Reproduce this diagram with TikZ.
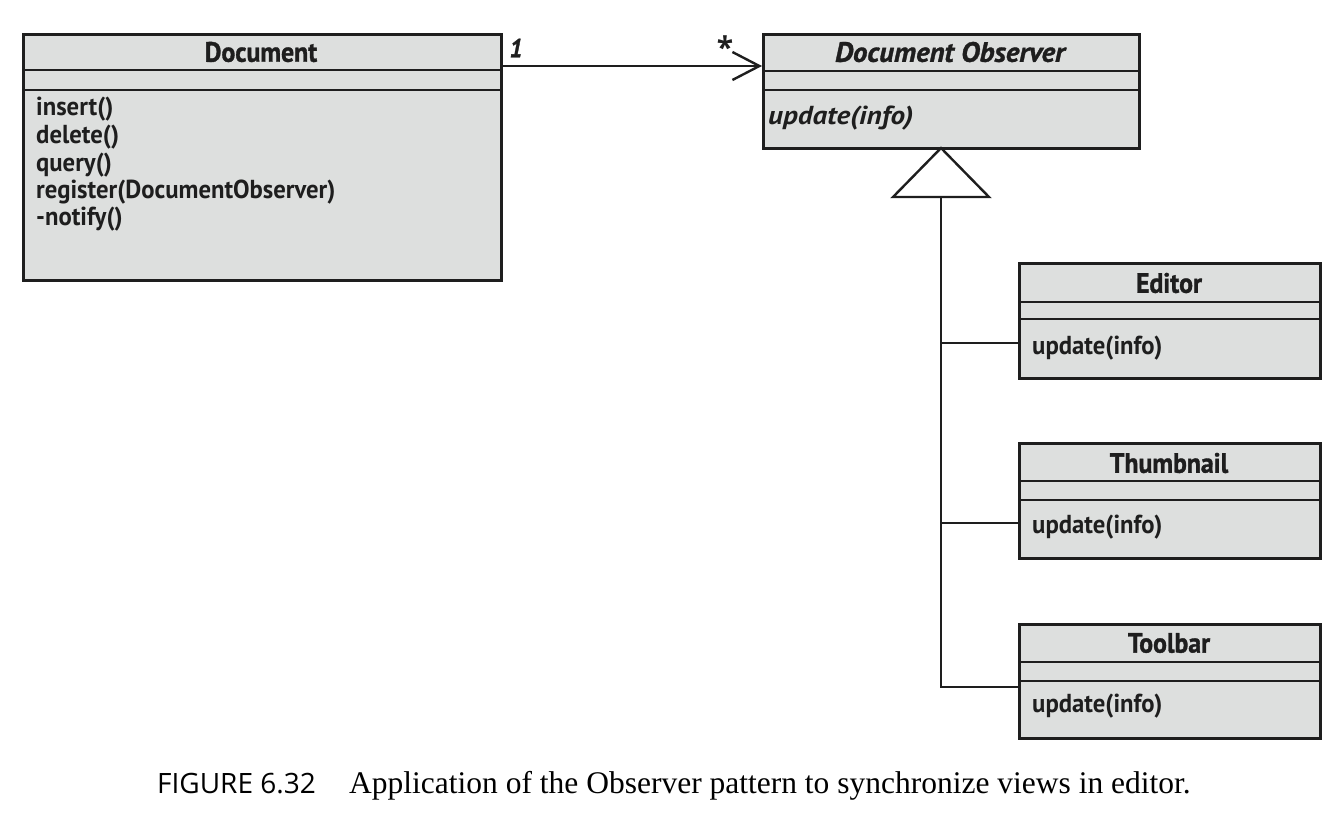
\documentclass[tikz,border=0pt]{standalone}
\usepackage{fontspec}
\usetikzlibrary{arrows.meta}
\newfontfamily\umlfont[FakeStretch=0.95]{PT Sans}
\newfontfamily\umlfontwide[FakeStretch=1.12]{PT Sans}
\newfontfamily\umltitle[FakeStretch=0.92,FakeBold=1.2]{PT Sans}
\newfontfamily\umltitlewide[FakeStretch=1.03,FakeBold=1.2]{PT Sans}
\newfontfamily\capsans{Open Sans}
\newfontfamily\capserif{Liberation Serif}
\definecolor{boxfill}{HTML}{DDDFDE}
\definecolor{linec}{HTML}{1E1E1E}
\tikzset{
  cls/.style={draw=linec, fill=boxfill, line width=2.8pt, rectangle, anchor=north west, inner sep=0pt},
  divider/.style={draw=linec, line width=2.8pt},
  ctitle/.style={font=\umltitle\bfseries\fontsize{28}{28}\selectfont, text=linec, anchor=center, inner sep=0pt},
  ctitleit/.style={font=\umltitlewide\bfseries\itshape\fontsize{28}{28}\selectfont, text=linec, anchor=center, inner sep=0pt},
  op/.style={font=\umlfont\bfseries\fontsize{26}{26}\selectfont, text=linec, anchor=west, inner sep=0pt},
  opit/.style={font=\umlfontwide\bfseries\itshape\fontsize{26}{26}\selectfont, text=linec, anchor=west, inner sep=0pt},
  mult/.style={font=\umltitle\bfseries\itshape\fontsize{26}{26}\selectfont, text=linec, inner sep=0pt},
  conn/.style={draw=linec, line width=2.4pt},
  assoc/.style={conn, -{Straight Barb[length=27pt,width=28pt,line width=2.4pt]}},
}
\begin{document}
\begin{tikzpicture}[x=1pt,y=-1pt]
\useasboundingbox (0,0) rectangle (1343,820);
% Document
\node[cls, minimum width=478pt, minimum height=246pt] (doc) at (22,33) {};
\draw[divider] (22,70) -- (500,70);
\draw[divider] (22,90) -- (500,90);
\node[ctitle] (doctitle) at (261,52) {Document};
\node[op] (op1) at (36,109) {insert()};
\node[op] (op2) at (36,137) {delete()};
\node[op] (op3) at (36,165) {query()};
\node[op] (op4) at (36,192) {register(DocumentObserver)};
\node[op] (op5) at (36,219) {-notify()};
% Document Observer
\node[cls, minimum width=376pt, minimum height=114pt] (obs) at (762,33) {};
\draw[divider] (762,71) -- (1138,71);
\draw[divider] (762,90) -- (1138,90);
\node[ctitleit] (obstitle) at (950,52) {Document Observer};
\node[opit] (obsop) at (768,118) {update(info)};
% association
\draw[assoc] ([yshift=-33pt]doc.north east) -- ([yshift=-33pt]obs.north west);
\node[mult] (m1) at (516,48) {1};
\node[font=\capsans\bfseries\fontsize{30}{30}\selectfont, text=linec, inner sep=0pt] (m2) at (725,47) {*};
% Editor
\node[cls, minimum width=301pt, minimum height=115pt] (ed) at (1018,262) {};
\draw[divider] (1018,302) -- (1319,302);
\draw[divider] (1018,319) -- (1319,319);
\node[ctitle] (edtitle) at (1169,283) {Editor};
\node[op] (edop) at (1032,348) {update(info)};
% Thumbnail
\node[cls, minimum width=301pt, minimum height=115pt] (th) at (1018,442) {};
\draw[divider] (1018,481) -- (1319,481);
\draw[divider] (1018,500) -- (1319,500);
\node[ctitle] (thtitle) at (1169,463) {Thumbnail};
\node[op] (thop) at (1032,527) {update(info)};
% Toolbar
\node[cls, minimum width=301pt, minimum height=114pt] (tb) at (1018,623) {};
\draw[divider] (1018,662) -- (1319,662);
\draw[divider] (1018,681) -- (1319,681);
\node[ctitle] (tbtitle) at (1169,643) {Toolbar};
\node[op] (tbop) at (1032,706) {update(info)};
% generalization
\coordinate (apex) at (941,148);
\coordinate (tri) at (941,197);
\draw[conn, fill=white, line join=miter] (apex) -- (989,197) -- (893,197) -- cycle;
\coordinate (trunk) at (941,687);
\draw[conn] (tri) -- (trunk) -- (tb.west |- trunk);
\draw[conn] (941,343) -- (ed.west |- 941,343);
\draw[conn] (941,523) -- (th.west |- 941,523);
% caption
\node[anchor=base west, inner sep=0pt, font=\capsans\fontsize{28}{28}\selectfont] (capA) at (157,793) {FIGURE 6.32};
\node[anchor=base west, inner sep=0pt, font=\capserif\fontsize{31.5}{31.5}\selectfont] (capB) at (349,793) {Application of the Observer pattern to synchronize views in editor.};
\end{tikzpicture}
\end{document}
